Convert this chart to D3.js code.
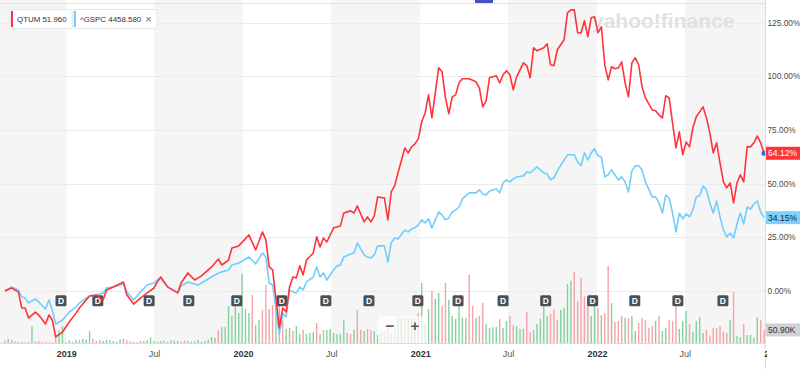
<!DOCTYPE html>
<html>
<head>
<meta charset="utf-8">
<script src="https://cdn.jsdelivr.net/npm/d3@7"></script>
<style>
body { margin: 0; background: #fff; }
svg { display: block; font-family: "Liberation Sans", Arial, sans-serif; }
</style>
</head>
<body>
<div id="chart"></div>
<script>
/** Data read off the QTUM vs ^GSPC 5Y comparison chart **/
// weeks are counted from the first weekly bar (Monday 2018-08-27)
var firstWeek = "2018-08-27";
var viewStart = "2018-08-17";
var viewEnd = "2022-12-16";

var weeks = [0,2,4,5,6,7,9,10,12,13, 14,15,17,19,21,22,24,25,27,29,
	30,32,35,36,38,40,42,44,45,46, 48,51,52,54,56,57,58,61,63,64,
	66,67,69,72,74,76,77,78,79,81, 82,83,84,85,86,87,88,89,91,92,
	93,94,95,97,98,99,100,102,103,104, 106,107,108,109,110,112,113,114,115,116,
	118,119,120,121,122,123,124,125,126,128, 129,130,131,132,133,134,135,137,139,140,
	141,142,143,145,146,147,148,149,150,151, 153,154,155,156,157,159,160,161,162,163,
	165,166,167,168,169,170,171,172,173,174, 175,176,177,178,179,180,181,182,183,184,
	185,186,187,188,189,191,192,193,194,195, 196,197,198,199,200,201,202,203,204,205,
	206,207,208,209,210,211,212,213,214,215, 216,217,218,219,220,221,222,223,224];

// % change since start
var qtumPct = [0,1.4,-0.5,-7.9,-7.9,-12.6,-9.8,-11.2,-15.4,-11.2,
	-13.5,-21.4,-19.1,-14.4,-10.3,-7.9,-4.2,-2.3,-1.9,-4.2,
	0.5,1.9,4.2,-1.9,-6.1,-3.3,-0.9,1.4,4.2,6.5,
	1.9,-0.9,3.7,8.4,5.1,6.1,7.0,11.2,14.9,12.1,
	14.4,20.0,21.0,26.1,19.1,27.5,23.8,11.2,9.8,-17.2,
	-7.9,-9.8,1.9,6.5,6.1,11.7,7.5,14.4,17.7,25.2,
	20.5,24.7,22.8,29.4,29.8,30.3,36.3,37.3,36.3,39.6,
	32.2,34.5,32.2,35.0,43.8,43.3,33.1,46.1,48.9,55.0,
	66.6,64.3,67.1,68.5,70.8,78.8,82.9,91.3,80.6,103.9,
	102.1,89.9,82.5,90.4,91.3,96.9,98.8,98.8,97.4,94.6,
	85.7,88.5,99.3,100.2,96.9,100.7,102.5,100.7,93.7,99.7,
	106.2,104.9,99.3,113.2,111.8,113.2,115.1,105.3,104.9,112.3,
	117.0,129.5,130.9,130.9,120.2,120.2,125.8,118.4,127.2,127.7,
	120.2,123.0,105.3,98.3,104.4,103.5,103.9,106.7,96.9,90.4,
	106.2,108.6,105.3,95.1,89.9,84.3,83.9,82.0,80.6,90.9,
	89.9,78.3,66.6,74.1,63.4,69.4,67.1,76.0,81.1,83.4,
	85.7,80.6,73.6,64.3,69.0,59.6,50.8,48.0,50.3,41.0,
	50.3,54.1,50.8,67.1,67.1,69.0,72.2,69.0,64.12];

var gspcPct = [0,1.9,0.5,-2.8,-3.3,-5.6,-3.7,-5.1,-8.4,-4.2,
	-8.9,-15.4,-13.5,-9.8,-7.5,-5.6,-3.3,-2.3,-1.9,-0.9,
	1.4,1.9,3.3,-0.5,-4.2,-0.5,2.8,3.7,5.1,6.1,
	1.9,-0.9,2.3,4.2,3.3,2.8,3.7,6.5,8.4,8.9,
	9.8,12.1,13.0,15.8,12.6,17.7,15.8,3.7,2.8,-20.0,
	-10.3,-12.1,0.5,-0.5,-0.9,1.9,0.5,4.2,6.5,11.2,
	6.5,8.4,5.1,9.8,11.7,12.1,15.8,17.2,17.7,22.4,
	16.8,15.8,15.4,16.8,21.0,21.0,13.5,22.4,24.7,24.2,
	28.4,27.5,28.9,29.4,30.8,33.1,31.7,33.6,29.4,36.8,
	35.4,33.1,34.0,36.8,37.7,39.1,42.9,45.7,45.7,47.1,
	45.2,44.7,46.6,47.5,45.7,50.3,51.7,50.8,52.2,53.1,
	53.6,55.5,55.0,56.4,57.8,55.0,54.5,51.7,52.7,55.9,
	61.0,63.4,63.4,63.4,60.1,58.3,64.3,61.0,64.3,66.2,
	62.9,62.4,53.1,54.1,56.4,54.1,51.7,53.1,50.8,46.1,
	55.9,58.3,58.3,56.4,50.8,43.8,43.8,41.0,36.3,44.7,
	43.3,36.3,27.5,36.3,33.6,35.9,34.5,37.7,43.8,44.3,
	48.9,47.1,41.0,36.3,41.9,34.5,28.4,25.2,27.0,24.7,
	31.2,36.3,31.2,39.1,38.2,40.5,41.9,36.8,34.15];

// QTUM weekly volume (thousands), one value per week from week 0
var volume = [9,16,11,6,4,4,2,2,66,6, 8,4,2,2,2,23,50,65,2,11,
	4,13,13,16,13,46,16,8,11,9, 13,11,8,5,13,16,11,7,4,3,
	9,8,11,22,8,5,8,9,5,11, 9,9,5,11,8,5,7,13,4,8,
	13,23,20,50,62,62,144,105,144,117, 269,133,117,187,70,90,129,226,133,148,
	121,164,86,55,59,47,66,35,51,35, 39,43,78,35,51,51,55,39,35,35,
	90,39,35,51,129,51,47,55,51,47, 31,39,47,59,39,59,98,98,98,98,
	98,98,117,234,78,133,203,172,195,144, 234,168,105,94,144,98,98,265,144,98,
	105,156,74,59,62,62,94,59,86,105, 70,66,55,55,121,43,51,74,94,156,
	105,113,129,90,129,137,230,242,277,164, 254,183,172,105,176,137,109,117,300,156,
	82,86,105,98,98,105,47,78,98,90, 59,66,86,105,47,59,90,86,187,55,
	86,125,74,43,86,101,39,51,27,59, 59,66,43,39,90,199,27,23,74,31,
	31,20,101,90,50.9];
// g = closed up that week, r = closed down
var volumeDir = ("rggrrggggr" + "rrrrrrgggg" + "ggrgggrrgg" + "gggggrrrrg" + "rggggggggr" +
	"gggrgggggg" + "gggrgggggg" + "gggrggrrrr" + "grrggrggrg" + "ggrgrggggg" +
	"ggrgrrgrrg" + "ggrggrggrg" + "ggrgggrggr" + "rggggggrrg" + "rrggggrggr" +
	"rgggrrgggg" + "grrrggggrr" + "rrrggrgrrg" + "rrrgrggrrr" + "rrgrggrrrg" +
	"ggrggggrrr" + "rrrrgrggrg" + "gggrr").split("");

var dividends = ["2018-12-21","2019-03-07","2019-06-21","2019-09-11","2019-12-19",
	"2020-03-21","2020-06-20","2020-09-17","2020-12-27","2021-03-20","2021-06-21",
	"2021-09-17","2021-12-23","2022-03-20","2022-06-17","2022-09-18"];

var tickDates = ["2019-01-01","2019-07-01","2020-01-01","2020-07-01","2021-01-01",
	"2021-07-01","2022-01-01","2022-07-01","2023-01-01"];
var tickLabels = ["2019","Jul","2020","Jul","2021","Jul","2022","Jul","2023"];
var pctTicks = [0, 25, 50, 75, 100, 125];

var legendNames = ["QTUM", "^GSPC"];
var legendValues = ["51.960", "4458.580"];
var lastVolumeLabel = "50.90K";


function drawChart()
{
	var W = 800, H = 369;
	var plotRight = 765;
	var baseY = 343;
	var red = "#ff333a", blue = "#72cdfb";

	var parse = d3.utcParse("%Y-%m-%d");
	var week0 = parse(firstWeek);
	function weekDate(w) { return d3.utcDay.offset(week0, 7 * w); }

	var x = d3.scaleUtc()
		.domain([parse(viewStart), parse(viewEnd)])
		.range([0, 766]);
	var y = d3.scaleLinear().domain([0, 125]).range([291, 22.5]);
	var yVol = d3.scaleLinear().domain([0, 300]).range([baseY, 266]);

	var svg = d3.select("#chart")
		.append("svg")
		.attr("width", W)
		.attr("height", H);

	var defs = svg.append("defs");
	defs.append("clipPath").attr("id", "plotClip")
		.append("rect").attr("x", 0).attr("y", 0).attr("width", plotRight).attr("height", baseY);
	// local to the x axis group (already moved down to baseY)
	defs.append("clipPath").attr("id", "axisClip")
		.append("rect").attr("x", 0).attr("y", 0).attr("width", plotRight + 2).attr("height", H - baseY);

	// alternating half-year bands
	var ticks = tickDates.map(parse);
	var edges = [parse(viewStart)].concat(ticks.slice(0, -1), [parse(viewEnd)]);
	var bands = [];
	for (var i = 0; i < edges.length - 1; i += 2)
	{
		bands.push([edges[i], edges[i + 1]]);
	}
	svg.append("g").selectAll("rect")
		.data(bands)
		.join("rect")
		.attr("x", function(d) { return x(d[0]); })
		.attr("width", function(d) { return Math.min(x(d[1]), plotRight) - x(d[0]); })
		.attr("y", 0)
		.attr("height", baseY)
		.attr("fill", "#f5f5f5");

	// grid
	svg.append("g").selectAll("line")
		.data(pctTicks)
		.join("line")
		.attr("x1", 0).attr("x2", plotRight)
		.attr("y1", function(d) { return Math.round(y(d)) + 0.5; })
		.attr("y2", function(d) { return Math.round(y(d)) + 0.5; })
		.attr("stroke", "#ebebeb");

	svg.append("line").attr("x1", 0).attr("x2", plotRight).attr("y1", 3.5).attr("y2", 3.5)
		.attr("stroke", "#e2e2e2");
	svg.append("rect").attr("x", 475).attr("y", 0).attr("width", 18).attr("height", 3)
		.attr("fill", "#4350c8");

	// watermark
	svg.append("text")
		.attr("x", 592).attr("y", 28)
		.attr("font-size", 21).attr("font-weight", "bold")
		.attr("fill", "#e0e1e5")
		.text("yahoo!finance");

	var plot = svg.append("g").attr("clip-path", "url(#plotClip)");

	// volume
	plot.append("g").selectAll("rect")
		.data(volume)
		.join("rect")
		.attr("x", function(d, i) { return x(weekDate(i)) - 0.7; })
		.attr("width", 1.4)
		.attr("y", function(d) { return yVol(d); })
		.attr("height", function(d) { return baseY - yVol(d); })
		.attr("fill", function(d, i) { return volumeDir[i] == "g" ? "#84d1a0" : "#f5a2a9"; });

	// dividend markers
	var divG = plot.append("g").selectAll("g")
		.data(dividends)
		.join("g")
		.attr("transform", function(d) { return "translate(" + x(parse(d)) + ",300.7)"; });
	divG.append("rect")
		.attr("x", -5.5).attr("y", -5.5).attr("width", 11).attr("height", 11).attr("rx", 1.5)
		.attr("fill", "#4b5057");
	divG.append("text")
		.attr("text-anchor", "middle").attr("y", 3.2)
		.attr("font-size", 8.5).attr("font-weight", "bold")
		.attr("fill", "#fff")
		.text("D");

	var line = d3.line()
		.x(function(d) { return x(weekDate(d.w)); })
		.y(function(d) { return y(d.v); });
	var gspcData = weeks.map(function(w, i) { return {w: w, v: gspcPct[i]}; });
	var qtumData = weeks.map(function(w, i) { return {w: w, v: qtumPct[i]}; });

	plot.append("path").datum(gspcData)
		.attr("d", line).attr("fill", "none")
		.attr("stroke", blue).attr("stroke-width", 1.6).attr("stroke-linejoin", "round");
	plot.append("path").datum(qtumData)
		.attr("d", line).attr("fill", "none")
		.attr("stroke", red).attr("stroke-width", 1.6).attr("stroke-linejoin", "round");

	var last = qtumData[qtumData.length - 1];
	svg.append("circle")
		.attr("cx", x(weekDate(last.w))).attr("cy", y(last.v)).attr("r", 2.6)
		.attr("fill", "#1f6fe5");

	// zoom buttons
	var zb = svg.append("g");
	zb.append("rect").attr("x", 378).attr("y", 316).attr("width", 50).attr("height", 27)
		.attr("fill", "#fff").attr("fill-opacity", 0.7);
	zb.append("text").attr("x", 390).attr("y", 331).attr("text-anchor", "middle")
		.attr("font-size", 15).attr("font-weight", "bold").attr("fill", "#5a5a5a").text("\u2212");
	zb.append("text").attr("x", 415).attr("y", 331).attr("text-anchor", "middle")
		.attr("font-size", 15).attr("font-weight", "bold").attr("fill", "#5a5a5a").text("+");

	// axes frame
	svg.append("line").attr("x1", 0).attr("x2", plotRight).attr("y1", baseY + 0.5).attr("y2", baseY + 0.5)
		.attr("stroke", "#dcdcdc");
	svg.append("line").attr("x1", plotRight + 0.5).attr("x2", plotRight + 0.5).attr("y1", 0).attr("y2", H)
		.attr("stroke", "#dcdcdc");

	var yAxis = svg.append("g")
		.attr("transform", "translate(" + plotRight + ",0)")
		.call(d3.axisRight(y).tickValues(pctTicks).tickSize(0).tickPadding(2.5)
			.tickFormat(function(d) { return d.toFixed(2) + "%"; }));
	yAxis.select(".domain").remove();
	yAxis.selectAll("text").attr("font-size", 8.3).attr("fill", "#4a4a4a")
		.attr("font-family", "'Liberation Sans', Arial, sans-serif");

	var xAxis = svg.append("g")
		.attr("transform", "translate(0," + baseY + ")")
		.attr("clip-path", "url(#axisClip)")
		.call(d3.axisBottom(x).tickValues(ticks).tickSize(0).tickPadding(8)
			.tickFormat(function(d, i) { return tickLabels[i]; }));
	xAxis.select(".domain").remove();
	xAxis.selectAll("text")
		.attr("font-size", 9)
		.attr("font-family", "'Liberation Sans', Arial, sans-serif")
		.attr("font-weight", function(d, i) { return tickLabels[i] == "Jul" ? "normal" : "bold"; })
		.attr("fill", function(d, i) { return tickLabels[i] == "Jul" ? "#555" : "#333"; });

	// price tags on the right axis
	var tags = [
		{v: qtumPct[qtumPct.length - 1], bg: red, fg: "#fff"},
		{v: gspcPct[gspcPct.length - 1], bg: "#7fd1fb", fg: "#10233a"}
	];
	tags.forEach(function(t)
	{
		svg.append("rect").attr("x", plotRight + 1).attr("y", y(t.v) - 6.5)
			.attr("width", 34).attr("height", 13).attr("fill", t.bg);
		svg.append("text").attr("x", plotRight + 3).attr("y", y(t.v) + 3)
			.attr("font-size", 8.6).attr("fill", t.fg)
			.text(t.v.toFixed(2) + "%");
	});
	var lastVol = volume[volume.length - 1];
	svg.append("rect").attr("x", plotRight + 1).attr("y", yVol(lastVol) - 6.5)
		.attr("width", 34).attr("height", 13).attr("fill", "#cfd1d5");
	svg.append("text").attr("x", plotRight + 3).attr("y", yVol(lastVol) + 3)
		.attr("font-size", 8.6).attr("fill", "#333")
		.text(lastVolumeLabel);

	// legend chips
	var chipX = [10, 73];
	var chipW = [62, 84];
	var chipColor = [red, blue];
	for (var k = 0; k < legendNames.length; k++)
	{
		svg.append("rect").attr("x", chipX[k]).attr("y", 9.5).attr("width", chipW[k]).attr("height", 19)
			.attr("fill", "#fff").attr("stroke", "#e6e6e6").attr("rx", 1.5);
		svg.append("rect").attr("x", chipX[k] + 1).attr("y", 11).attr("width", 2).attr("height", 16)
			.attr("fill", chipColor[k]);
		svg.append("text").attr("x", chipX[k] + 7).attr("y", 21.8)
			.attr("font-size", 7.9).attr("fill", "#333")
			.text(legendNames[k] + " " + legendValues[k]);
	}
	svg.append("text").attr("x", 148.5).attr("y", 22.5).attr("text-anchor", "middle")
		.attr("font-size", 11).attr("fill", "#666").text("\u00d7");
}

drawChart();
</script>
</body>
</html>
